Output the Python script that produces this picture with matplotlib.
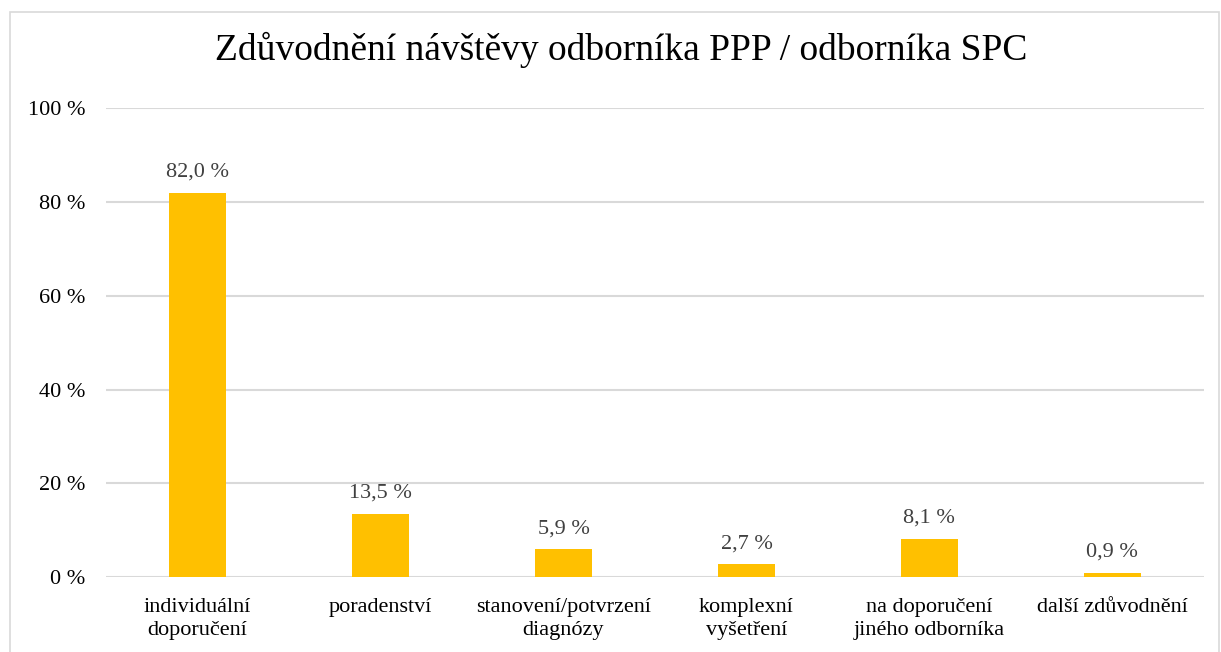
import matplotlib.pyplot as plt
from matplotlib.patches import Rectangle

categories = ["individuální\ndoporučení", "poradenství", "stanovení/potvrzení\ndiagnózy",
              "komplexní\nvyšetření", "na doporučení\njiného odborníka", "další zdůvodnění"]
values = [82.0, 13.5, 5.9, 2.7, 8.1, 0.9]
yticks = [0, 20, 40, 60, 80, 100]

plt.rcParams['font.family'] = ['Liberation Serif', 'DejaVu Serif']

fig = plt.figure(figsize=(12.21, 6.52), dpi=100)
ax = fig.add_axes([0.0868, 0.115, 0.8992, 0.719])

x = range(len(values))
ax.bar(x, values, width=0.31, color="#FFC000", zorder=3)
for i, v in zip(x, values):
    ax.text(i, v + 2.4, f"{v:.1f} %".replace(".", ","), ha="center", va="bottom",
            fontsize=16, color="#404040")

ax.set_xlim(-0.5, len(values) - 0.5)
ax.set_ylim(0, 100)
ax.set_yticks(yticks)
ax.set_yticklabels([f"{t} %" for t in yticks], fontsize=16)
ax.set_xticks(list(x))
ax.set_xticklabels(categories, fontsize=16, linespacing=1.3)
ax.tick_params(axis="both", length=0)
ax.tick_params(axis="y", pad=15)
ax.tick_params(axis="x", pad=15)
ax.grid(axis="y", color="#d9d9d9", linewidth=1.5, zorder=0)
for s in ax.spines.values():
    s.set_visible(False)

fig.text(0.509, 0.924, "Zdůvodnění návštěvy odborníka PPP / odborníka SPC",
         ha="center", va="center", fontsize=27)

fig.patches.append(Rectangle((0.008, -0.01), 0.99, 0.992, transform=fig.transFigure,
                             fill=False, edgecolor="#d9d9d9", linewidth=1.2))

fig.savefig("out.png", dpi=100)
